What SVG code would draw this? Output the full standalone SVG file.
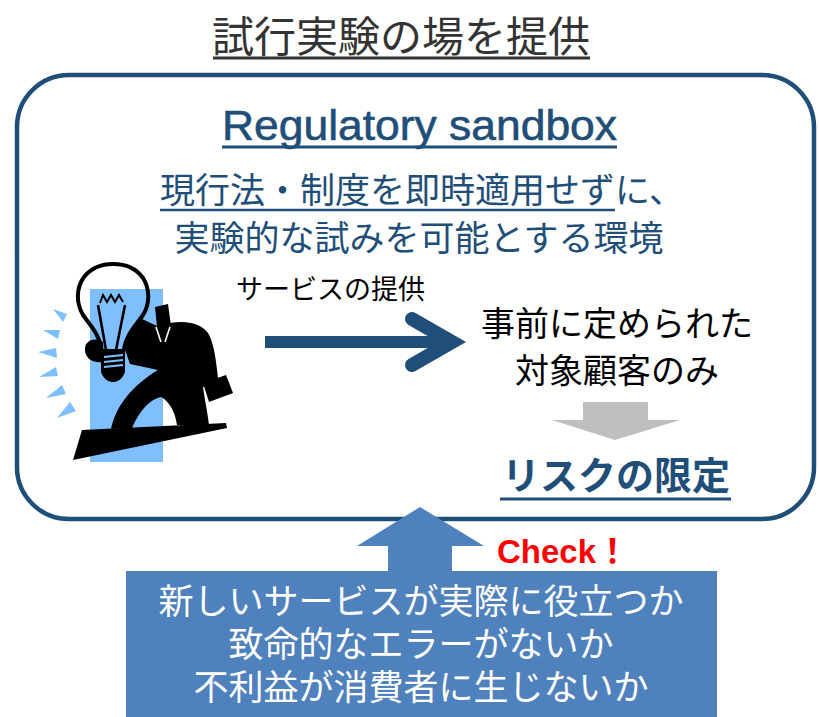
<svg xmlns="http://www.w3.org/2000/svg" width="819" height="717" viewBox="0 0 819 717">
  <style>
    .jp { font-family: "Noto Sans CJK JP", "Liberation Sans", sans-serif; }
    .navy { fill: #1F4E79; }
    .ink { fill: #000000; }
    .ray { fill: #80BFFF; }
    .uline { stroke-linecap: butt; }
  </style>

  <!-- heading -->
  <g id="title">
    <text class="jp" x="401" y="52" font-size="42" fill="#333333" text-anchor="middle">試行実験の場を提供</text>
    <line class="uline" x1="213" y1="58" x2="590" y2="58" stroke="#333333" stroke-width="3"/>
  </g>

  <!-- rounded frame -->
  <g id="sandbox-frame">
    <rect x="17" y="75" width="797" height="444" rx="52" ry="52" fill="#ffffff" stroke="#1F4E79" stroke-width="4.5"/>
  </g>

  <g id="sandbox-heading">
    <text x="222" y="140" font-family="'Liberation Sans', Arial, sans-serif" font-size="42" class="navy" stroke="#1F4E79" stroke-width="0.6" textLength="395" lengthAdjust="spacingAndGlyphs">Regulatory sandbox</text>
    <line class="uline" x1="222" y1="147" x2="617" y2="147" stroke="#1F4E79" stroke-width="3"/>
  </g>

  <g id="sandbox-description">
    <text class="jp navy" x="160" y="203" font-size="35">現行法・制度を即時適用せずに、</text>
    <line class="uline" x1="160" y1="210" x2="615" y2="210" stroke="#1F4E79" stroke-width="2.5"/>
    <text class="jp navy" x="419" y="251" font-size="35" text-anchor="middle">実験的な試みを可能とする環境</text>
  </g>

  <!-- businessman carrying a light bulb -->
  <g id="innovator">
    <rect x="90" y="289" width="73" height="173" fill="#80BFFF"/>
    <polygon class="ray" points="53,309 67,314 63,322"/>
    <polygon class="ray" points="43,330 60,330 58,339"/>
    <polygon class="ray" points="38,352 56,348 57,358"/>
    <polygon class="ray" points="39,377 56,367 58,376"/>
    <polygon class="ray" points="46,398 62,385 66,394"/>
    <polygon class="ray" points="57,418 70,402 76,411"/>
    <!-- platform -->
    <polygon class="ink" points="82,430 226,423 227,428 73,460"/>
    <!-- body -->
    <path class="ink" d="M140,318 L157,326 L170,323 C186,320 201,323 208,333 C214,343 216,360 218,378 L212,384 L203,387 L205,400 C207,410 208,418 209,425 L177,425 C175,412 170,402 161,397 C150,399 140,410 132,428 L111,429 C116,405 133,385 158,370 L130,364 L125,350 C128,336 136,326 140,318 Z"/>
    <!-- head -->
    <polygon class="ink" points="155,307 168,304 171,326 157,327"/>
    <!-- shirt collar -->
    <polyline points="156,327 161,342" fill="none" stroke="#ffffff" stroke-width="1.6"/>
    <polyline points="170,327 165,342" fill="none" stroke="#ffffff" stroke-width="1.6"/>
    <!-- hand holding the bulb -->
    <path class="ink" d="M103,342 C95,337 86,340 85,348 C84,357 92,364 104,362 Z"/>
    <!-- briefcase -->
    <polygon class="ink" points="203,383 226,375 233,393 209,402"/>
    <!-- bulb glass -->
    <path d="M101,349 C100,335 90,325 83,315 C76,303 76,288 84,277 C92,267 103,264 113,264 C124,264 136,268 143,278 C150,289 150,304 143,315 C136,325 126,335 124,349" fill="none" stroke="#000000" stroke-width="4"/>
    <!-- filament -->
    <polyline points="100,303 103,295 107,302 111,295 115,302 119,295 123,302" fill="none" stroke="#000000" stroke-width="2"/>
    <line x1="98" y1="305" x2="106" y2="350" stroke="#000000" stroke-width="2.6"/>
    <line x1="125" y1="305" x2="116" y2="350" stroke="#000000" stroke-width="2.6"/>
    <!-- screw base -->
    <path class="ink" d="M101,349 L125,349 L125,372 C122,380 117,382 113,382 C109,382 104,380 101,372 Z"/>
    <line x1="104" y1="357" x2="123" y2="355" stroke="#80BFFF" stroke-width="2"/>
    <line x1="104" y1="362" x2="123" y2="360" stroke="#80BFFF" stroke-width="2"/>
    <line x1="104" y1="367" x2="123" y2="365" stroke="#80BFFF" stroke-width="2"/>
  </g>

  <g id="service-label">
    <text class="jp ink" x="236" y="299" font-size="27">サービスの提供</text>
  </g>

  <g id="target-customers">
    <text class="jp ink" x="617" y="336" font-size="34" text-anchor="middle">事前に定められた</text>
    <text class="jp ink" x="617" y="383" font-size="34" text-anchor="middle">対象顧客のみ</text>
  </g>

  <g id="risk-label">
    <text class="jp navy" x="616" y="489" font-size="38" font-weight="bold" text-anchor="middle">リスクの限定</text>
    <line class="uline" x1="500" y1="499" x2="731" y2="499" stroke="#1F4E79" stroke-width="3"/>
  </g>

  <!-- arrows -->
  <g id="connectors">
    <line x1="265" y1="342" x2="448" y2="342" stroke="#1F4E79" stroke-width="12"/>
    <polyline points="412,319 452,342 412,365" fill="none" stroke="#1F4E79" stroke-width="14" stroke-linecap="round" stroke-linejoin="miter"/>
    <polygon points="583,402 648,402 648,420 680,420 615,440 552,420 583,420" fill="#BFBFBF"/>
    <polygon points="420,507 484,546 452,546 452,575 388,575 388,546 357,546" fill="#4F81BD"/>
  </g>

  <g id="check-label">
    <text x="497" y="563" font-family="'Liberation Sans', 'Noto Sans CJK JP', sans-serif" font-size="33" font-weight="bold" fill="#FF0000">Check！</text>
  </g>

  <g id="check-points">
    <rect x="126" y="571" width="591" height="146" fill="#4F81BD"/>
    <text class="jp" x="421" y="614" font-size="35" fill="#ffffff" text-anchor="middle">新しいサービスが実際に役立つか</text>
    <text class="jp" x="421" y="657" font-size="35" fill="#ffffff" text-anchor="middle">致命的なエラーがないか</text>
    <text class="jp" x="421" y="700" font-size="35" fill="#ffffff" text-anchor="middle">不利益が消費者に生じないか</text>
  </g>
</svg>
